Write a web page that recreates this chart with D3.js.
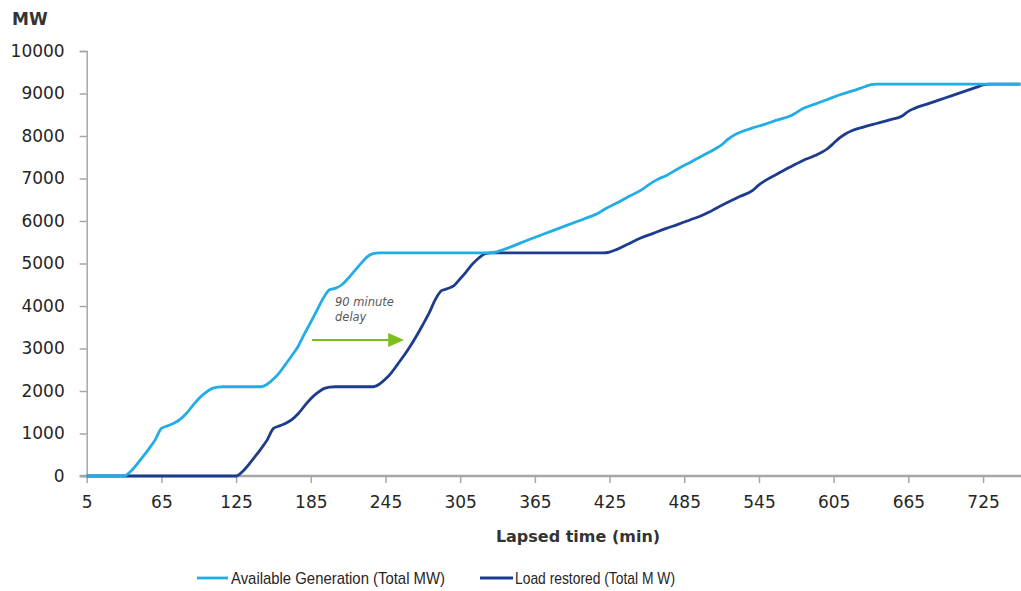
<!DOCTYPE html>
<html>
<head>
<meta charset="utf-8">
<script src="https://cdn.jsdelivr.net/npm/d3@7/dist/d3.min.js"></script>
<style>
  html, body { margin: 0; padding: 0; background: #ffffff; }
  svg { display: block; }
</style>
</head>
<body>
<svg id="chart" width="1021" height="591"></svg>
<script>
// ---- Data ----
const genTime = [5, 35, 40, 50, 55, 60, 65, 70, 75, 80, 85, 90, 95, 100, 105, 110, 115, 145, 150, 155, 160, 165, 170, 175, 180, 185, 190, 195, 200, 205, 210, 215, 220, 225, 230, 235, 240, 330, 340, 360, 380, 400, 410, 415, 420, 430, 440, 450, 455, 460, 465, 470, 480, 490, 500, 510, 515, 520, 525, 530, 535, 540, 550, 560, 570, 575, 580, 590, 600, 610, 620, 630, 635, 640, 755];
const genMW   = [0, 0, 100, 450, 640, 850, 1120, 1180, 1240, 1330, 1470, 1650, 1820, 1950, 2050, 2090, 2100, 2100, 2160, 2280, 2440, 2640, 2840, 3060, 3350, 3620, 3900, 4180, 4380, 4420, 4500, 4650, 4820, 4990, 5150, 5230, 5250, 5250, 5330, 5560, 5780, 6000, 6110, 6170, 6260, 6410, 6570, 6720, 6820, 6920, 7000, 7060, 7230, 7385, 7540, 7700, 7790, 7920, 8020, 8090, 8141, 8190, 8280, 8380, 8470, 8550, 8640, 8750, 8860, 8970, 9060, 9160, 9210, 9220, 9220];

const loadTime = [5, 125, 130, 140, 145, 150, 155, 160, 165, 170, 175, 180, 185, 190, 195, 200, 205, 235, 240, 245, 250, 255, 260, 265, 270, 275, 280, 285, 290, 295, 300, 305, 310, 315, 320, 325, 330, 420, 425, 430, 440, 450, 460, 470, 480, 490, 500, 505, 510, 520, 530, 540, 545, 550, 560, 570, 580, 590, 600, 605, 610, 615, 620, 630, 640, 650, 660, 665, 670, 680, 690, 700, 710, 720, 725, 730, 755];
const loadMW   = [0, 0, 100, 450, 640, 850, 1120, 1180, 1240, 1330, 1470, 1650, 1820, 1950, 2050, 2090, 2100, 2100, 2160, 2280, 2440, 2640, 2840, 3060, 3300, 3560, 3830, 4150, 4360, 4410, 4480, 4640, 4810, 4990, 5130, 5230, 5250, 5250, 5270, 5320, 5460, 5600, 5710, 5820, 5920, 6030, 6140, 6210, 6290, 6440, 6580, 6720, 6850, 6950, 7110, 7270, 7420, 7540, 7700, 7830, 7960, 8060, 8130, 8220, 8300, 8380, 8470, 8580, 8650, 8750, 8850, 8950, 9050, 9150, 9200, 9220, 9220];

const xTickValues = [5, 65, 125, 185, 245, 305, 365, 425, 485, 545, 605, 665, 725];
const yTickValues = [0, 1000, 2000, 3000, 4000, 5000, 6000, 7000, 8000, 9000, 10000];

const seriesNames = ["Available Generation (Total MW)", "Load restored (Total M W)"];
const annotationLines = ["90 minute", "delay"];
const annotationTimes = [186, 260];   // arrow start / end (minutes)
const annotationValue = 3200;        // arrow level (MW)

(function () {
  const svg = d3.select("#chart");
  const pLeft = 86.7, pRight = 1020.4, pTop = 51, pBottom = 476;
  const x = d3.scaleLinear().domain([5, 755]).range([pLeft, pRight]);
  const y = d3.scaleLinear().domain([0, 10000]).range([pBottom, pTop]);

  const axisColor = "#a6a6a6";
  const textColor = "#262626";
  const genColor = "#22ade6";
  const loadColor = "#1d3c8e";
  const fontFam = "'DejaVu Sans', sans-serif";

  // Y axis
  const yAxis = svg.append("g")
    .attr("transform", `translate(${pLeft},0)`)
    .call(d3.axisLeft(y).tickValues(yTickValues).tickSize(7).tickPadding(15).tickFormat(d3.format("d")));
  yAxis.select(".domain").attr("stroke", axisColor).attr("stroke-width", 1.5);
  yAxis.selectAll(".tick line").attr("stroke", axisColor).attr("stroke-width", 1.5);
  yAxis.selectAll(".tick text").attr("fill", textColor).style("font-family", fontFam).style("font-size", "17px");

  // X axis
  const xAxis = svg.append("g")
    .attr("transform", `translate(0,${pBottom})`)
    .call(d3.axisBottom(x).tickValues(xTickValues).tickSize(7).tickPadding(13).tickFormat(d3.format("d")));
  xAxis.select(".domain").attr("stroke", axisColor).attr("stroke-width", 2.5)
    .attr("d", `M${pLeft - 7},0H1021`);
  xAxis.selectAll(".tick line").attr("stroke", axisColor).attr("stroke-width", 1.5);
  xAxis.selectAll(".tick text").attr("fill", textColor).style("font-family", fontFam).style("font-size", "17px");

  // Axis titles
  svg.append("text")
    .attr("x", 12).attr("y", 25)
    .attr("fill", "#333333")
    .style("font-family", fontFam).style("font-size", "17px").style("font-weight", "bold")
    .text("MW");

  svg.append("text")
    .attr("x", 578).attr("y", 542)
    .attr("text-anchor", "middle")
    .attr("fill", "#333333")
    .style("font-family", fontFam).style("font-size", "16px").style("font-weight", "bold")
    .text("Lapsed time (min)");

  // Lines
  const line = d3.line()
    .x(d => x(d[0]))
    .y(d => y(d[1]))
    .curve(d3.curveMonotoneX);

  const genData = genTime.map((t, i) => [t, genMW[i]]);
  const loadData = loadTime.map((t, i) => [t, loadMW[i]]);

  svg.append("path")
    .datum(loadData)
    .attr("fill", "none")
    .attr("stroke", loadColor)
    .attr("stroke-width", 2.8)
    .attr("stroke-linejoin", "round")
    .attr("d", line);

  svg.append("path")
    .datum(genData)
    .attr("fill", "none")
    .attr("stroke", genColor)
    .attr("stroke-width", 2.8)
    .attr("stroke-linejoin", "round")
    .attr("d", line);

  // Annotation
  const arrowColor = "#7cbf1c";
  const ax0 = x(annotationTimes[0]), ax1 = x(annotationTimes[1]), ay = y(annotationValue);
  svg.append("line")
    .attr("x1", ax0).attr("y1", ay).attr("x2", ax1 - 14).attr("y2", ay)
    .attr("stroke", arrowColor).attr("stroke-width", 2.2);
  svg.append("path")
    .attr("d", `M${ax1},${ay}L${ax1 - 16},${ay - 7}L${ax1 - 16},${ay + 7}Z`)
    .attr("fill", arrowColor);

  const ann = svg.append("text")
    .attr("x", 335).attr("y", 306)
    .attr("fill", "#595959")
    .style("font-family", fontFam).style("font-size", "11.5px").style("font-style", "italic");
  annotationLines.forEach((s, i) => {
    ann.append("tspan").attr("x", 335).attr("y", 306 + i * 15).text(s);
  });

  // Legend
  const legendItems = [
    { name: seriesNames[0], color: genColor, x0: 197, x1: 228, tx: 231, len: 214 },
    { name: seriesNames[1], color: loadColor, x0: 480, x1: 513, tx: 515, len: 160 }
  ];
  const lg = svg.append("g");
  legendItems.forEach(d => {
    lg.append("line")
      .attr("x1", d.x0).attr("x2", d.x1).attr("y1", 578).attr("y2", 578)
      .attr("stroke", d.color).attr("stroke-width", 2.8);
    lg.append("text")
      .attr("x", d.tx).attr("y", 584)
      .attr("fill", textColor)
      .attr("textLength", d.len).attr("lengthAdjust", "spacingAndGlyphs")
      .style("font-family", "'Liberation Sans', Arial, sans-serif").style("font-size", "17px")
      .text(d.name);
  });
})();
</script>
</body>
</html>
